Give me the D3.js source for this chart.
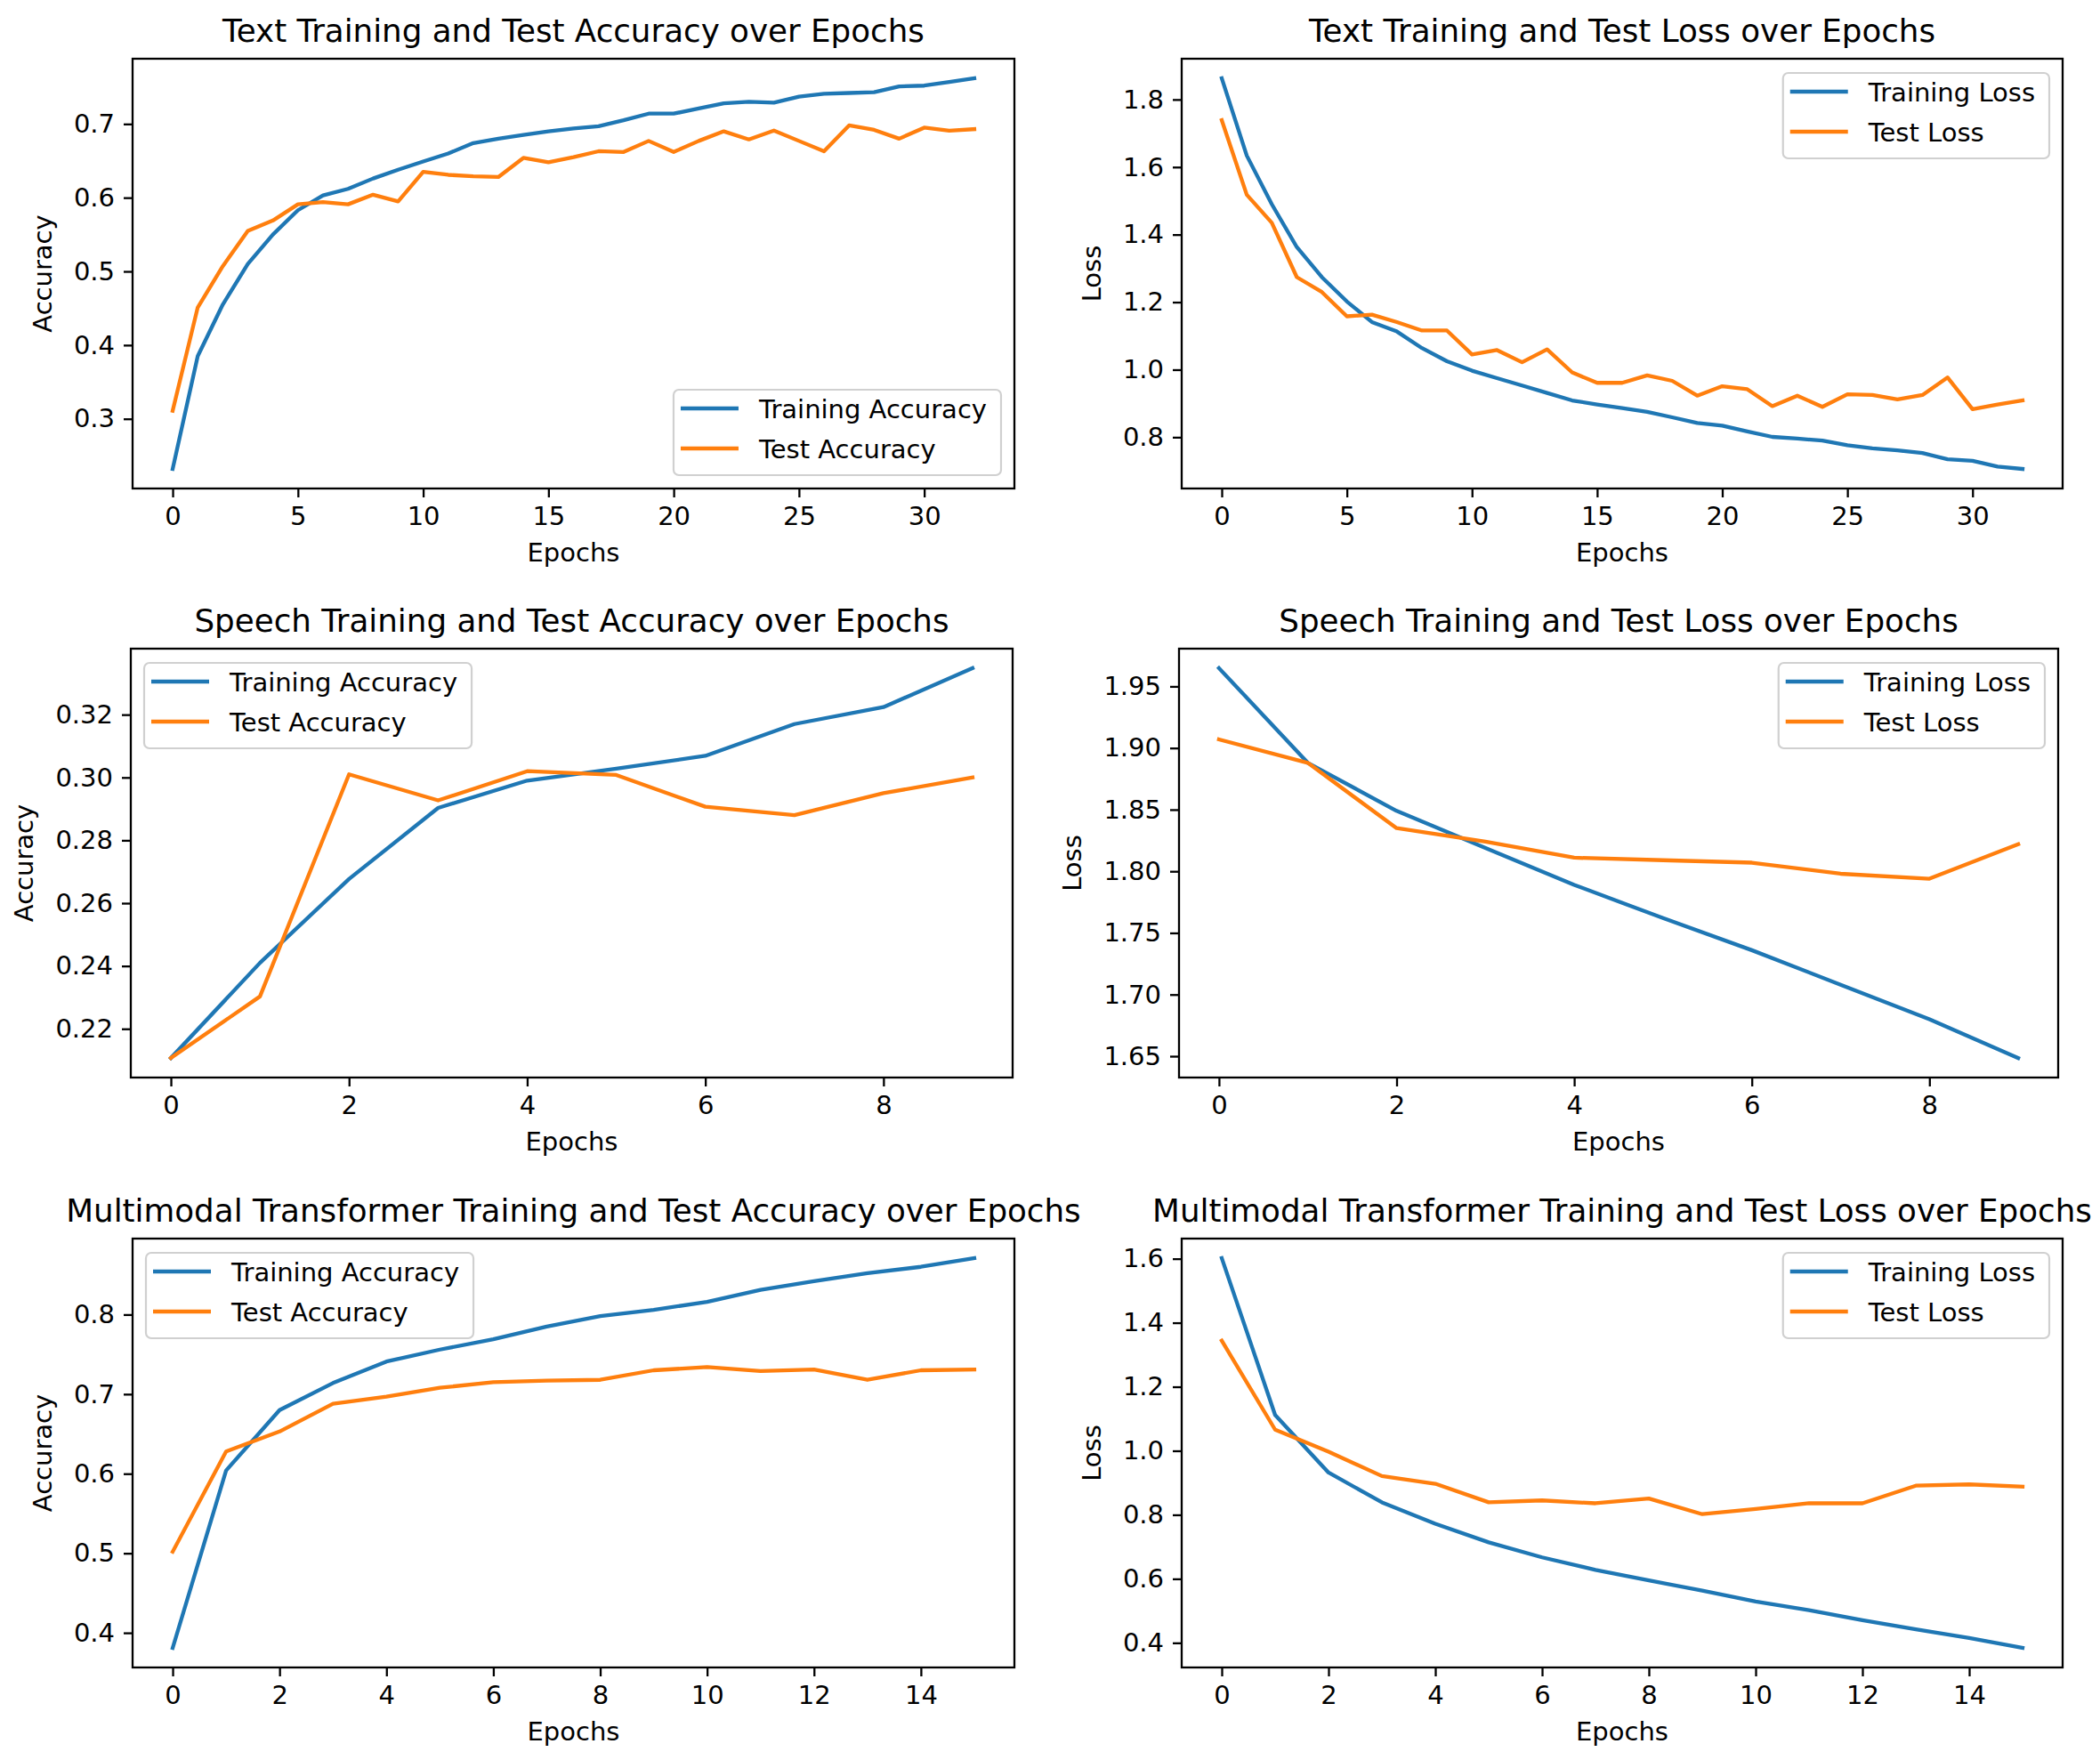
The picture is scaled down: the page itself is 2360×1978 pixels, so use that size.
<!DOCTYPE html>
<html>
<head>
<meta charset="utf-8">
<script src="https://cdn.jsdelivr.net/npm/d3@7"></script>
<style>
  body { margin: 0; background: #fff; }
</style>
</head>
<body>
<div id="chart"></div>
<script>
// ---- data ----
const textTrainAcc = [0.232, 0.385, 0.455, 0.510, 0.550, 0.583, 0.603, 0.612, 0.626, 0.638, 0.649, 0.660, 0.674, 0.680, 0.685, 0.690, 0.694, 0.697, 0.705, 0.714, 0.714, 0.721, 0.728, 0.730, 0.729, 0.737, 0.741, 0.742, 0.743, 0.751, 0.752, 0.757, 0.762];
const textTestAcc  = [0.311, 0.451, 0.507, 0.555, 0.569, 0.591, 0.594, 0.591, 0.604, 0.595, 0.635, 0.631, 0.629, 0.628, 0.654, 0.648, 0.655, 0.663, 0.662, 0.677, 0.662, 0.677, 0.690, 0.679, 0.691, 0.677, 0.663, 0.698, 0.692, 0.680, 0.695, 0.691, 0.693];

const textTrainLoss = [1.863, 1.634, 1.490, 1.363, 1.274, 1.202, 1.141, 1.113, 1.064, 1.025, 0.997, 0.975, 0.953, 0.931, 0.909, 0.897, 0.886, 0.875, 0.859, 0.842, 0.834, 0.817, 0.801, 0.796, 0.790, 0.776, 0.767, 0.761, 0.753, 0.735, 0.730, 0.713, 0.706];
const textTestLoss  = [1.739, 1.518, 1.435, 1.274, 1.230, 1.158, 1.163, 1.141, 1.116, 1.116, 1.045, 1.058, 1.022, 1.060, 0.992, 0.961, 0.961, 0.983, 0.967, 0.923, 0.951, 0.942, 0.892, 0.923, 0.890, 0.927, 0.925, 0.912, 0.925, 0.977, 0.883, 0.897, 0.909];

const speechTrainAcc = [0.2107, 0.2410, 0.2677, 0.2903, 0.2990, 0.3028, 0.3069, 0.3170, 0.3224, 0.3348];
const speechTestAcc  = [0.2107, 0.2303, 0.3010, 0.2927, 0.3020, 0.3008, 0.2907, 0.2880, 0.2950, 0.3000];

const speechTrainLoss = [1.9648, 1.888, 1.849, 1.819, 1.789, 1.762, 1.736, 1.708, 1.680, 1.6485];
const speechTestLoss  = [1.907, 1.888, 1.835, 1.824, 1.811, 1.809, 1.807, 1.798, 1.794, 1.822];

const mmTrainAcc = [0.381, 0.604, 0.680, 0.714, 0.741, 0.756, 0.769, 0.785, 0.798, 0.806, 0.816, 0.831, 0.842, 0.852, 0.860, 0.871];
const mmTestAcc  = [0.502, 0.628, 0.653, 0.688, 0.697, 0.708, 0.715, 0.717, 0.718, 0.730, 0.734, 0.729, 0.731, 0.718, 0.730, 0.731];

const mmTrainLoss = [1.602, 1.112, 0.932, 0.839, 0.772, 0.714, 0.667, 0.628, 0.595, 0.563, 0.529, 0.502, 0.471, 0.442, 0.415, 0.384];
const mmTestLoss  = [1.344, 1.066, 0.997, 0.921, 0.897, 0.839, 0.845, 0.836, 0.851, 0.802, 0.818, 0.836, 0.836, 0.891, 0.895, 0.888];

// tick labels
const xTicks33 = [0, 5, 10, 15, 20, 25, 30];
const xTicks10 = [0, 2, 4, 6, 8];
const xTicks16 = [0, 2, 4, 6, 8, 10, 12, 14];
const yTicksTextAcc = [0.3, 0.4, 0.5, 0.6, 0.7];
const yTicksTextLoss = [0.8, 1.0, 1.2, 1.4, 1.6, 1.8];
const yTicksSpeechAcc = [0.22, 0.24, 0.26, 0.28, 0.30, 0.32];
const yTicksSpeechLoss = [1.65, 1.70, 1.75, 1.80, 1.85, 1.90, 1.95];
const yTicksMmAcc = [0.4, 0.5, 0.6, 0.7, 0.8];
const yTicksMmLoss = [0.4, 0.6, 0.8, 1.0, 1.2, 1.4, 1.6];

const accLabels = ["Training Accuracy", "Test Accuracy"];
const lossLabels = ["Training Loss", "Test Loss"];

// ---- styling (matplotlib defaults, scaled) ----
const FONT = "'DejaVu Sans', sans-serif";
const FS = 29;          // tick / label / legend size
const TITLE_FS = 35.7;
const LW = 4.3;         // series line width
const SPINE = 2.3;
const COLORS = ["#1f77b4", "#ff7f0e"];

const panels = [
    { title: "Text Training and Test Accuracy over Epochs", ylabel: "Accuracy",
      series: [textTrainAcc, textTestAcc], labels: accLabels, xTicks: xTicks33, yTicks: yTicksTextAcc, fmt: ".1f",
      legend: "lower right", box: { l: 149, r: 1140, t: 66, b: 549 } },
    { title: "Text Training and Test Loss over Epochs", ylabel: "Loss",
      series: [textTrainLoss, textTestLoss], labels: lossLabels, xTicks: xTicks33, yTicks: yTicksTextLoss, fmt: ".1f",
      legend: "upper right", box: { l: 1328, r: 2318, t: 66, b: 549 } },
    { title: "Speech Training and Test Accuracy over Epochs", ylabel: "Accuracy",
      series: [speechTrainAcc, speechTestAcc], labels: accLabels, xTicks: xTicks10, yTicks: yTicksSpeechAcc, fmt: ".2f",
      legend: "upper left", box: { l: 147, r: 1138, t: 729, b: 1211 } },
    { title: "Speech Training and Test Loss over Epochs", ylabel: "Loss",
      series: [speechTrainLoss, speechTestLoss], labels: lossLabels, xTicks: xTicks10, yTicks: yTicksSpeechLoss, fmt: ".2f",
      legend: "upper right", box: { l: 1325, r: 2313, t: 729, b: 1211 } },
    { title: "Multimodal Transformer Training and Test Accuracy over Epochs", ylabel: "Accuracy",
      series: [mmTrainAcc, mmTestAcc], labels: accLabels, xTicks: xTicks16, yTicks: yTicksMmAcc, fmt: ".1f",
      legend: "upper left", box: { l: 149, r: 1140, t: 1392, b: 1874 } },
    { title: "Multimodal Transformer Training and Test Loss over Epochs", ylabel: "Loss",
      series: [mmTrainLoss, mmTestLoss], labels: lossLabels, xTicks: xTicks16, yTicks: yTicksMmLoss, fmt: ".1f",
      legend: "upper right", box: { l: 1328, r: 2318, t: 1392, b: 1874 } }
];

const svg = d3.select("#chart").append("svg")
    .attr("width", 2360)
    .attr("height", 1978)
    .style("display", "block")
    .style("font-family", FONT);

svg.append("rect").attr("width", 2360).attr("height", 1978).attr("fill", "#fff");

function styleAxis(g) {
    g.select(".domain").remove();
    g.selectAll(".tick line").attr("stroke", "#000").attr("stroke-width", SPINE);
    g.selectAll(".tick text")
        .attr("fill", "#000")
        .style("font-family", FONT)
        .style("font-size", FS + "px");
}

function drawPanel(p) {
    const { l, r, t, b } = p.box;
    const g = svg.append("g");
    const n = p.series[0].length;

    // matplotlib-style 5% autoscale margins
    const x = d3.scaleLinear().domain([-(n - 1) * 0.05, (n - 1) * 1.05]).range([l, r]);
    const all = p.series.flat();
    const lo = d3.min(all), hi = d3.max(all), pad = (hi - lo) * 0.05;
    const y = d3.scaleLinear().domain([lo - pad, hi + pad]).range([b, t]);

    const line = d3.line().x((d, i) => x(i)).y(d => y(d));

    p.series.forEach((s, k) => {
        g.append("path")
            .datum(s)
            .attr("d", line)
            .attr("fill", "none")
            .attr("stroke", COLORS[k])
            .attr("stroke-width", LW)
            .attr("stroke-linejoin", "round")
            .attr("stroke-linecap", "square");
    });

    // axes
    g.append("g")
        .attr("transform", `translate(0,${b})`)
        .call(d3.axisBottom(x).tickValues(p.xTicks).tickFormat(d3.format("d")).tickSize(10).tickPadding(10))
        .call(styleAxis);

    const yAxisG = g.append("g")
        .attr("transform", `translate(${l},0)`)
        .call(d3.axisLeft(y).tickValues(p.yTicks).tickFormat(d3.format(p.fmt)).tickSize(10).tickPadding(10))
        .call(styleAxis);

    // spines
    g.append("rect")
        .attr("x", l).attr("y", t)
        .attr("width", r - l).attr("height", b - t)
        .attr("fill", "none")
        .attr("stroke", "#000")
        .attr("stroke-width", SPINE);

    // title + axis labels
    g.append("text")
        .attr("x", (l + r) / 2)
        .attr("y", t - 19)
        .attr("text-anchor", "middle")
        .style("font-size", TITLE_FS + "px")
        .attr("fill", "#000")
        .text(p.title);

    g.append("text")
        .attr("x", (l + r) / 2)
        .attr("y", b + 82)
        .attr("text-anchor", "middle")
        .style("font-size", FS + "px")
        .attr("fill", "#000")
        .text("Epochs");

    const maxTickW = d3.max(yAxisG.selectAll(".tick text").nodes(), nd => nd.getBBox().width);
    const ylx = l - 20 - maxTickW - 25;
    g.append("text")
        .attr("transform", `translate(${ylx},${(t + b) / 2}) rotate(-90)`)
        .attr("text-anchor", "middle")
        .style("font-size", FS + "px")
        .attr("fill", "#000")
        .text(p.ylabel);

    const padL = 8, hl = 65, htp = 23, padR = 16;
    const topToRow = 21, rowGap = 45, rowToBottom = 30, edge = 15;
    const lg = g.append("g");
    const frame = lg.append("rect");
    const texts = p.labels.map(lab => lg.append("text")
        .style("font-size", FS + "px")
        .attr("fill", "#000")
        .text(lab));
    const tw = d3.max(texts, tx => tx.node().getComputedTextLength());
    const w = padL + hl + htp + tw + padR;
    const h = topToRow + (p.labels.length - 1) * rowGap + rowToBottom;
    const lx = p.legend.includes("right") ? r - edge - w : l + edge;
    const ly = p.legend.includes("upper") ? t + edge + 1 : b - edge - h;

    frame.attr("x", lx).attr("y", ly)
        .attr("width", w).attr("height", h)
        .attr("rx", 6)
        .attr("fill", "#fff").attr("fill-opacity", 0.8)
        .attr("stroke", "#d0d0d0").attr("stroke-width", 2.2);

    p.labels.forEach((lab, k) => {
        const cy = ly + topToRow + k * rowGap;
        lg.append("line")
            .attr("x1", lx + padL).attr("x2", lx + padL + hl)
            .attr("y1", cy).attr("y2", cy)
            .attr("stroke", COLORS[k])
            .attr("stroke-width", LW);
        texts[k].attr("x", lx + padL + hl + htp).attr("y", cy + 11);
    });
}

panels.forEach(drawPanel);
</script>
</body>
</html>
